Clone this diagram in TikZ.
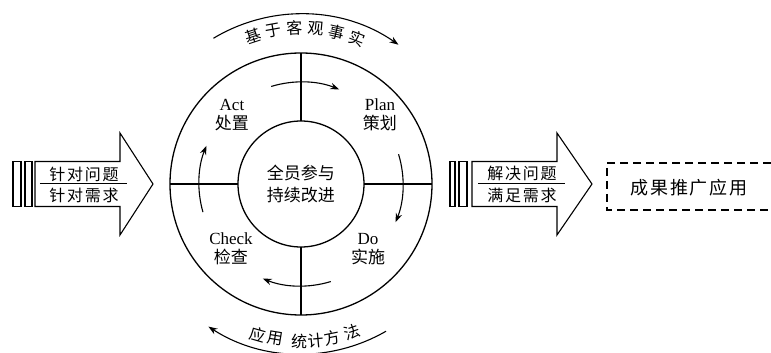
\documentclass[tikz,border=0pt]{standalone}
\usepackage{fontspec}
\setmainfont{Liberation Serif}
\newfontfamily\cjk{Noto Sans CJK SC}
\newfontfamily\cjkw{Noto Sans CJK SC}[LetterSpace=11]
\usetikzlibrary{arrows.meta,positioning}

\begin{document}
\begin{tikzpicture}[x=1pt,y=1pt,line width=1.1pt,
    >={Stealth[length=9pt,width=6.5pt]}]
            \tikzstyle{every node}=[inner sep=0pt,outer sep=0pt];
            \tikzstyle{ring}=[draw,circle,line width=1.3pt];
            \tikzstyle{lab}=[align=center,font=\fontsize{17}{19}\selectfont];
            \tikzstyle{hz}=[font=\cjk\fontsize{16}{19}\selectfont];
            \tikzstyle{side}=[font=\cjkw\fontsize{16}{19}\selectfont];
            \useasboundingbox (-301,-169) rectangle (470,184);
            \node[ring,minimum size=262pt] (outer) at (0,0) {};
            \node[ring,minimum size=126pt,align=center,font=\cjk\fontsize{17}{22}\selectfont] (inner) at (0,0) {全员参与\\持续改进};
            \path[draw] (outer.north) -- (inner.north);
            \path[draw] (inner.south) -- (outer.south);
            \path[draw] (outer.west) -- (inner.west);
            \path[draw] (inner.east) -- (outer.east);
            \node[lab] (act) at (-69,69) {Act\\{\cjk 处置}};
            \node[lab] (plan) at (79,69) {Plan\\{\cjk 策划}};
            \node[lab] (check) at (-70,-65) {Check\\{\cjk 检查}};
            \node[lab] (do) at (67,-65) {Do\\{\cjk 实施}};
            \coordinate (a1) at (107:102);
            \coordinate (a2) at (17:102);
            \coordinate (a3) at (-73:102);
            \coordinate (a4) at (196:102);
            \path[draw] [->] (a1) arc[start angle=107,end angle=68,radius=102];
            \path[draw] [->] (a2) arc[start angle=17,end angle=-22,radius=102];
            \path[draw] [->] (a3) arc[start angle=-73,end angle=-112,radius=102];
            \path[draw] [->] (a4) arc[start angle=196,end angle=158,radius=102];
            \coordinate (o1) at (121:170);
            \coordinate (o2) at (-60:170);
            \path[draw] [->] (o1) arc[start angle=121,end angle=55,radius=170];
            \path[draw] [->] (o2) arc[start angle=-60,end angle=-123,radius=170];
            \foreach \a/\c [count=\i] in {108/基,100.2/于,92.4/客,84.6/观,76.8/事,69/实}
                \node[hz,rotate=\a-90] (top\i) at (\a:156) {\c};
            \foreach \a/\c [count=\i] in {-106/应,-99.4/用,-90.7/统,-84.6/计,-78.5/方,-71/法}
                \node[hz,rotate=\a+90] (bot\i) at (\a:157) {\c};
            \path[draw] (-288,22.5) rectangle (-280,-22.5);
            \path[draw] (-276,22.5) rectangle (-269,-22.5);
            \path[draw] (-266,22.5) -- (-181,22.5) -- (-181,51) -- (-148,0) -- (-181,-51) -- (-181,-22.5) -- (-266,-22.5) -- cycle;
            \node[side] (in1) at (-217,10) {针对问题};
            \node[side] (in2) at (-217,-11) {针对需求};
            \path[draw] (-261,0.5) -- (-174,0.5);
            \path[draw] (149,22.5) rectangle (154,-22.5);
            \path[draw] (158,22.5) rectangle (166,-22.5);
            \path[draw] (171,22.5) -- (256,22.5) -- (256,51) -- (291,0) -- (256,-51) -- (256,-22.5) -- (171,-22.5) -- cycle;
            \node[side] (out1) at (221,11) {解决问题};
            \node[side] (out2) at (221,-11) {满足需求};
            \path[draw] (177,0.5) -- (264,0.5);
            \path[draw,dash pattern=on 8pt off 5pt] (470,21) -| (306,-26) -- (470,-26);
            \node[font=\cjkw\fontsize{18}{20}\selectfont] (res) at (388,-4) {成果推广应用};
        \end{tikzpicture}
\end{document}
